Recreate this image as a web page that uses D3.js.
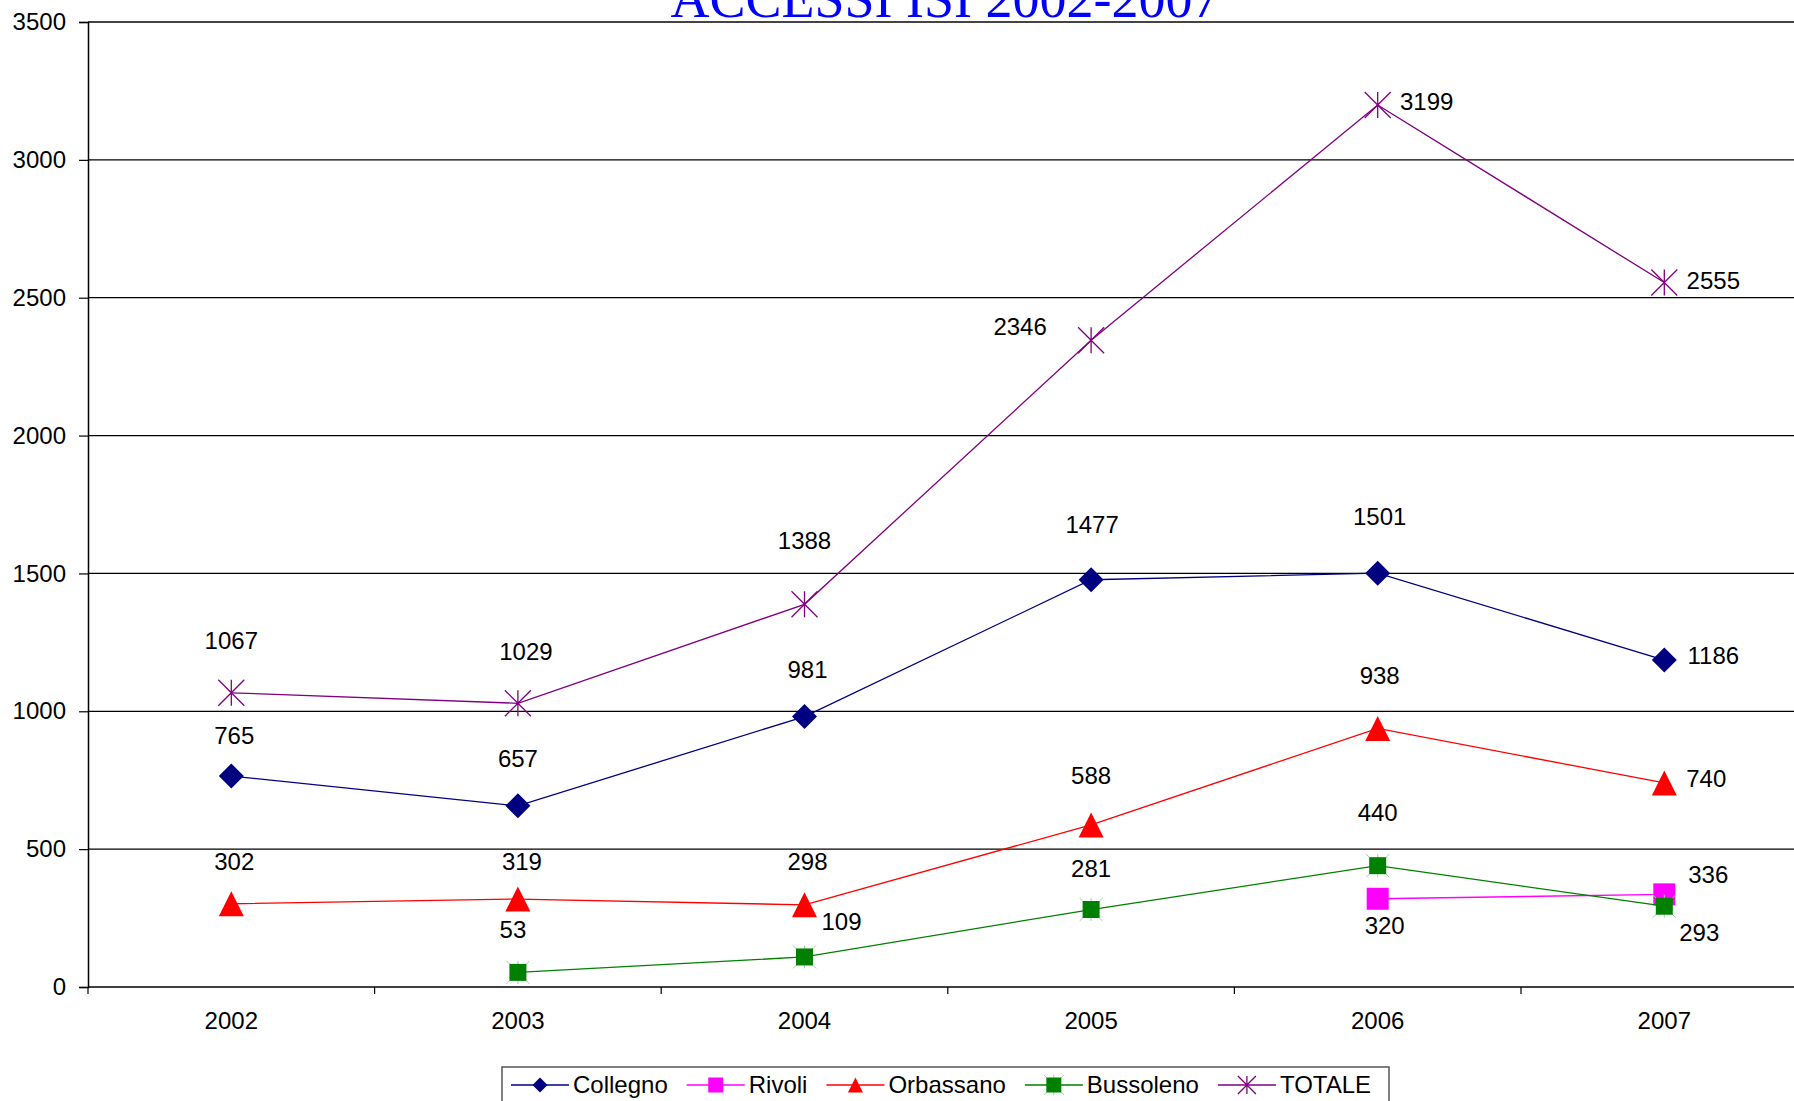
<!DOCTYPE html>
<html>
<head>
<meta charset="utf-8">
<script src="https://cdn.jsdelivr.net/npm/d3@7"></script>
<style>
  body { margin: 0; background: #fff; }
  svg { display: block; font-family: "Liberation Sans", Arial, sans-serif; }
</style>
</head>
<body>
<div class="line-chart"></div>
<script>
// chart data
const years = ['2002', '2003', '2004', '2005', '2006', '2007'];
const collegno = [765, 657, 981, 1477, 1501, 1186];
const rivoli = [null, null, null, null, 320, 336];
const orbassano = [302, 319, 298, 588, 938, 740];
const bussoleno = [null, 53, 109, 281, 440, 293];
const totale = [1067, 1029, 1388, 2346, 3199, 2555];
const yTicks = [0, 500, 1000, 1500, 2000, 2500, 3000, 3500];
const title = 'ACCESSI ISI 2002-2007';

const series = [
  { name: 'Collegno', values: collegno, color: '#000080', marker: 'diamond', size: 25 },
  { name: 'Rivoli', values: rivoli, color: '#ff00ff', marker: 'square', size: 22 },
  { name: 'Orbassano', values: orbassano, color: '#ff0000', marker: 'triangle', size: 25 },
  { name: 'Bussoleno', values: bussoleno, color: '#008000', marker: 'squarex', size: 17 },
  { name: 'TOTALE', values: totale, color: '#800080', marker: 'star', size: 26 }
];

// label offsets (text centre relative to the point), per series
const labelOffsets = {
  Collegno: [[3, -40], [0, -47], [3, -47], [1, -55], [2, -57], [49, -4]],
  Rivoli: [null, null, null, null, [7, 27], [44, -20]],
  Orbassano: [[3, -42], [4, -37], [3, -43], [0, -49], [2, -53], [42, -4]],
  Bussoleno: [null, [-5, -43], [37, -35], [0, -41], [0, -53], [35, 26]],
  TOTALE: [[0, -52], [8, -52], [0, -64], [-71, -14], [49, -3], [49, -2]]
};

const FS = 24;
const W = 1794, H = 1101;
const margin = { top: 22, left: 88 };
const plotW = 6 * 286.6;
const plotH = 987 - 22;

const svg = d3.select('.line-chart').append('svg')
  .attr('width', W).attr('height', H);

const x = d3.scaleBand().domain(years).range([margin.left, margin.left + plotW]).padding(0);
const y = d3.scaleLinear().domain([0, 3500]).range([margin.top + plotH, margin.top]);
const cx = d => x(d) + x.bandwidth() / 2;

// gridlines
svg.append('g')
  .selectAll('line')
  .data(yTicks.filter(t => t > 0 && t < 3500))
  .enter().append('line')
  .attr('x1', margin.left).attr('x2', margin.left + plotW)
  .attr('y1', d => y(d)).attr('y2', d => y(d))
  .attr('stroke', '#000').attr('stroke-width', 1.2);

// top border
svg.append('line')
  .attr('x1', margin.left).attr('x2', margin.left + plotW)
  .attr('y1', y(3500)).attr('y2', y(3500))
  .attr('stroke', '#444').attr('stroke-width', 2);

// y axis
const yAxis = svg.append('g')
  .attr('transform', 'translate(' + margin.left + ',0)')
  .call(d3.axisLeft(y).tickValues(yTicks).tickSize(9).tickPadding(13).tickFormat(d3.format('d')));
yAxis.select('.domain').attr('stroke', '#000').attr('stroke-width', 1.5);
yAxis.selectAll('.tick line').attr('stroke', '#000').attr('stroke-width', 1.2);
yAxis.selectAll('.tick text').attr('font-size', FS).attr('fill', '#000')
  .attr('font-family', '"Liberation Sans", Arial, sans-serif');

// x axis: ticks between categories
const xBase = y(0);
svg.append('line')
  .attr('x1', margin.left).attr('x2', margin.left + plotW)
  .attr('y1', xBase).attr('y2', xBase)
  .attr('stroke', '#000').attr('stroke-width', 1.5);
svg.append('g')
  .selectAll('line')
  .data(years.concat(['end']))
  .enter().append('line')
  .attr('x1', (d, i) => margin.left + i * x.bandwidth())
  .attr('x2', (d, i) => margin.left + i * x.bandwidth())
  .attr('y1', xBase).attr('y2', xBase + 7)
  .attr('stroke', '#000').attr('stroke-width', 1.2);
svg.append('g')
  .selectAll('text')
  .data(years)
  .enter().append('text')
  .attr('x', d => cx(d))
  .attr('y', xBase + 34)
  .attr('dy', '0.35em')
  .attr('text-anchor', 'middle')
  .attr('font-size', FS)
  .text(d => d);

// markers
function markerPath(type, s) {
  const h = s / 2;
  const p = d3.path();
  if (type === 'diamond') {
    p.moveTo(0, -h); p.lineTo(h, 0); p.lineTo(0, h); p.lineTo(-h, 0); p.closePath();
  } else if (type === 'triangle') {
    p.moveTo(0, -h); p.lineTo(h, h); p.lineTo(-h, h); p.closePath();
  } else if (type === 'square' || type === 'squarex') {
    p.rect(-h, -h, s, s);
  } else if (type === 'star') {
    p.moveTo(-h, -h); p.lineTo(h, h);
    p.moveTo(h, -h); p.lineTo(-h, h);
    p.moveTo(0, -h); p.lineTo(0, h);
  }
  return p.toString();
}

function drawMarker(g, sr, size) {
  if (sr.marker === 'star') {
    g.append('path').attr('d', markerPath('star', size))
      .attr('fill', 'none').attr('stroke', sr.color).attr('stroke-width', 1.3);
  } else {
    if (sr.marker === 'squarex') {
      g.append('path').attr('d', markerPath('star', size * 1.35))
        .attr('fill', 'none').attr('stroke', '#9ad19a').attr('stroke-width', 1);
    }
    g.append('path').attr('d', markerPath(sr.marker, size))
      .attr('fill', sr.color).attr('stroke', 'none');
  }
}

const line = d3.line()
  .defined(d => d.v !== null)
  .x(d => cx(d.year))
  .y(d => y(d.v));

series.forEach(sr => {
  const pts = years.map((yr, i) => ({ year: yr, v: sr.values[i], i: i }));
  const g = svg.append('g');
  g.append('path')
    .datum(pts)
    .attr('d', line)
    .attr('fill', 'none')
    .attr('stroke', sr.color)
    .attr('stroke-width', 1.3);
  pts.filter(d => d.v !== null).forEach(d => {
    const m = g.append('g').attr('transform', 'translate(' + cx(d.year) + ',' + y(d.v) + ')');
    drawMarker(m, sr, sr.size);
  });
});

// data labels on top
series.forEach(sr => {
  const offs = labelOffsets[sr.name];
  svg.append('g')
    .selectAll('text')
    .data(years.map((yr, i) => ({ year: yr, v: sr.values[i], o: offs[i] })).filter(d => d.v !== null))
    .enter().append('text')
    .attr('x', d => cx(d.year) + d.o[0])
    .attr('y', d => y(d.v) + d.o[1])
    .attr('dy', '0.35em')
    .attr('text-anchor', 'middle')
    .attr('font-size', FS)
    .attr('fill', '#000')
    .text(d => d.v);
});

// title
svg.append('text')
  .attr('x', 945)
  .attr('y', 17)
  .attr('text-anchor', 'middle')
  .attr('font-family', '"Liberation Serif", "Times New Roman", serif')
  .attr('font-size', 54)
  .attr('fill', '#0000ff')
  .text(title);

// legend
const legend = svg.append('g');
legend.append('rect')
  .attr('x', 502).attr('y', 1067)
  .attr('width', 887).attr('height', 60)
  .attr('fill', '#fff').attr('stroke', '#555').attr('stroke-width', 1.5);
let lx = 511;
const ly = 1085;
series.forEach(sr => {
  const it = legend.append('g');
  it.append('line')
    .attr('x1', lx).attr('x2', lx + 58)
    .attr('y1', ly).attr('y2', ly)
    .attr('stroke', sr.color).attr('stroke-width', 1.3);
  const m = it.append('g').attr('transform', 'translate(' + (lx + 29) + ',' + ly + ')');
  drawMarker(m, sr, sr.marker === 'star' ? 18 : 15);
  const t = it.append('text')
    .attr('x', lx + 62)
    .attr('y', ly)
    .attr('dy', '0.35em')
    .attr('font-size', FS)
    .text(sr.name);
  lx += 62 + t.node().getComputedTextLength() + 19;
});
</script>
</body>
</html>
